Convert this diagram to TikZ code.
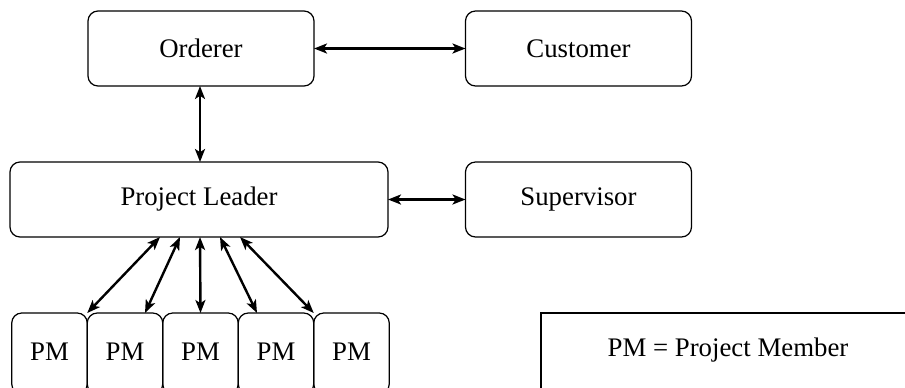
\documentclass[tikz,border=0pt]{standalone}
\usepackage{fontspec}
\setmainfont{Liberation Serif}
\usetikzlibrary{calc,arrows.meta}
\begin{document}
\begin{tikzpicture}[x=0.5pt,y=-0.5pt,
  box/.style={draw,line width=0.6pt,rounded corners=5pt,inner sep=0pt,outer sep=0pt,
    minimum height=37.5pt,font=\fontsize{13.4}{16}\selectfont},
  wide/.style={box,minimum width=113pt},
  pmbox/.style={box,minimum width=37.75pt,minimum height=40.5pt},
  link/.style={line width=1.2pt,{Stealth[length=6.5pt,width=5pt,inset=1.6pt]}-{Stealth[length=6.5pt,width=5pt,inset=1.6pt]}}]
\useasboundingbox (0,0) rectangle (905,387);

\node[wide] (orderer) at (201,48.5) {Orderer};
\node[wide] (customer) at (578.5,48.5) {Customer};
\node[box,minimum width=189pt] (leader) at (199,199.5) {Project Leader};
\node[wide] (supervisor) at (578.5,199.5) {Supervisor};

% project members: boxes run past the lower edge
\foreach \i/\cx in {1/49.5,2/125,3/200.5,4/276,5/351.5}
  \node[pmbox,anchor=north] (pm\i) at (\cx,313) {};
\foreach \i in {1,...,5}
  \node[font=\fontsize{13.4}{16}\selectfont] (pmt\i) at (pm\i.north |- 0,352) {PM};

\node[box,rounded corners=0pt,minimum width=187pt,minimum height=45pt,anchor=north west] (legend) at (541,313) {};
\node[font=\fontsize{13.4}{16}\selectfont] (legendtext) at (728,350) {PM = Project Member};

\draw[link] (orderer) -- (customer);
\draw[link] (leader) -- (supervisor);
\draw[link] ($(orderer.south)+(-1,0)$) -- ($(leader.north)+(1,0)$);

\draw[link] ($(leader.south)+(-39,0)$) -- (pm1.north east);
\draw[link] ($(leader.south)+(-19,0)$) -- ($(pm2.north)+(20,0)$);
\draw[link] ($(leader.south)+(1,0)$) -- (pm3.north);
\draw[link] ($(leader.south)+(21,0)$) -- ($(pm4.north)+(-19,0)$);
\draw[link] ($(leader.south)+(41,0)$) -- (pm5.north west);
\end{tikzpicture}
\end{document}
